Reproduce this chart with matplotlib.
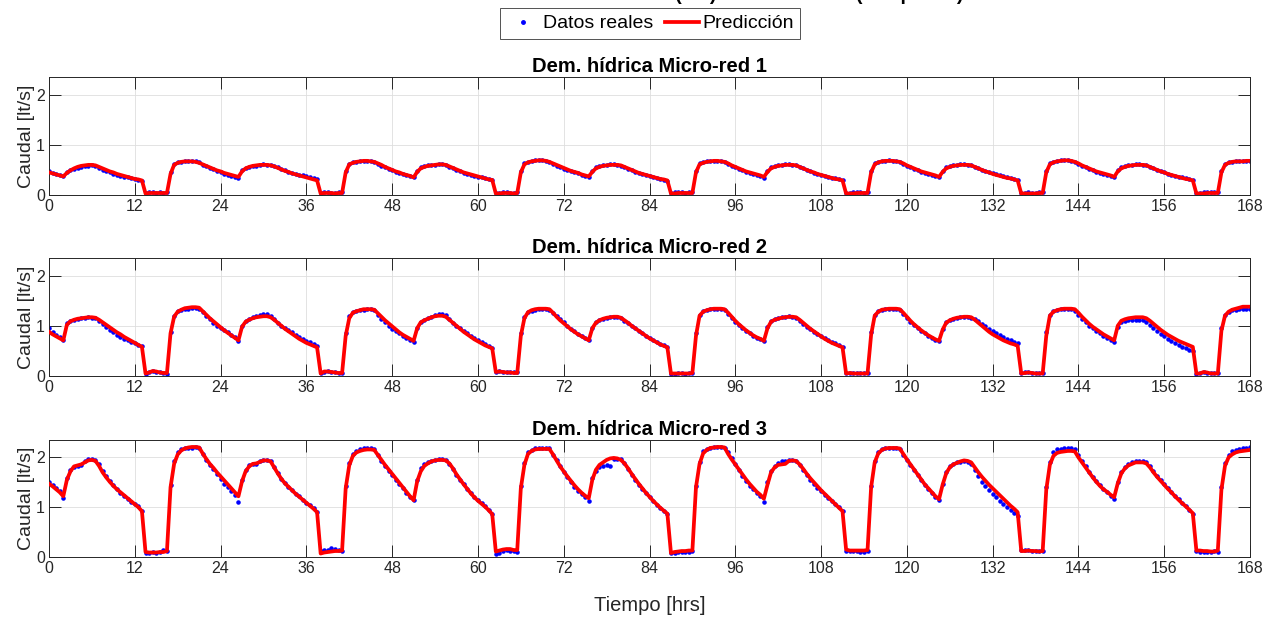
import numpy as np
import matplotlib
matplotlib.use("Agg")
import matplotlib.pyplot as plt
from matplotlib.lines import Line2D

plt.rcParams["font.family"] = ["Liberation Sans", "DejaVu Sans"]

# time axis: 0 .. 168 h, one sample every half hour
T_HRS = np.arange(0, 168.5, 0.5)
XTICKS = list(range(0, 169, 12))
PANEL_TITLES = ["Dem. hídrica Micro-red 1", "Dem. hídrica Micro-red 2",
                "Dem. hídrica Micro-red 3"]

# ── Micro-red 1 ───────────────────────────────────────────────────────
mr1_real = [
    0.47, 0.44, 0.42, 0.40, 0.38,
    0.46, 0.49, 0.52, 0.54, 0.56, 0.57, 0.58, 0.59, 0.58, 0.53, 0.50, 0.48, 0.45, 0.42, 0.40, 0.38, 0.36, 0.35, 0.33, 0.32, 0.30, 0.28,
    0.04, 0.05, 0.05, 0.04, 0.05, 0.04, 0.05,
    0.45, 0.62, 0.65, 0.66, 0.67, 0.68, 0.68, 0.67, 0.65, 0.60, 0.57, 0.54, 0.51, 0.48, 0.45, 0.42, 0.40, 0.38, 0.36, 0.34,
    0.49, 0.54, 0.56, 0.57, 0.58, 0.59, 0.61, 0.60, 0.59, 0.58, 0.55, 0.52, 0.49, 0.46, 0.44, 0.42, 0.40, 0.39, 0.37, 0.35, 0.33, 0.31,
    0.04, 0.05, 0.05, 0.04, 0.04, 0.05, 0.05,
    0.48, 0.62, 0.65, 0.66, 0.67, 0.68, 0.68, 0.67, 0.65, 0.62, 0.58, 0.55, 0.52, 0.49, 0.46, 0.44, 0.41, 0.39, 0.37, 0.35,
    0.48, 0.56, 0.58, 0.60, 0.60, 0.60, 0.61, 0.61, 0.60, 0.56, 0.53, 0.50, 0.47, 0.44, 0.42, 0.40, 0.38, 0.36, 0.35, 0.33, 0.31, 0.30,
    0.04, 0.04, 0.05, 0.05, 0.04, 0.04, 0.05,
    0.47, 0.63, 0.66, 0.68, 0.69, 0.70, 0.70, 0.68, 0.66, 0.62, 0.58, 0.55, 0.52, 0.49, 0.47, 0.45, 0.43, 0.40, 0.38, 0.36,
    0.48, 0.55, 0.58, 0.59, 0.60, 0.61, 0.61, 0.60, 0.58, 0.55, 0.52, 0.49, 0.46, 0.44, 0.42, 0.40, 0.38, 0.36, 0.34, 0.32, 0.30, 0.28,
    0.04, 0.05, 0.05, 0.05, 0.04, 0.05, 0.05,
    0.47, 0.63, 0.66, 0.67, 0.68, 0.68, 0.68, 0.67, 0.65, 0.62, 0.58, 0.55, 0.52, 0.49, 0.46, 0.44, 0.42, 0.39, 0.37, 0.34,
    0.48, 0.55, 0.57, 0.59, 0.60, 0.61, 0.61, 0.60, 0.59, 0.56, 0.53, 0.50, 0.47, 0.44, 0.42, 0.40, 0.38, 0.36, 0.34, 0.33, 0.32, 0.30,
    0.04, 0.04, 0.05, 0.05, 0.05, 0.04, 0.05,
    0.47, 0.63, 0.66, 0.68, 0.68, 0.69, 0.68, 0.67, 0.65, 0.62, 0.58, 0.55, 0.52, 0.49, 0.46, 0.44, 0.42, 0.40, 0.38, 0.35,
    0.48, 0.55, 0.58, 0.59, 0.60, 0.61, 0.61, 0.60, 0.59, 0.56, 0.53, 0.50, 0.47, 0.45, 0.43, 0.41, 0.39, 0.37, 0.35, 0.33, 0.31, 0.29,
    0.04, 0.04, 0.05, 0.04, 0.04, 0.05, 0.05,
    0.47, 0.63, 0.66, 0.68, 0.69, 0.70, 0.69, 0.68, 0.66, 0.62, 0.58, 0.55, 0.52, 0.49, 0.46, 0.44, 0.42, 0.40, 0.38, 0.35,
    0.49, 0.55, 0.58, 0.59, 0.60, 0.61, 0.61, 0.60, 0.59, 0.56, 0.53, 0.50, 0.47, 0.45, 0.42, 0.40, 0.38, 0.36, 0.35, 0.33, 0.31, 0.29,
    0.04, 0.04, 0.05, 0.05, 0.05, 0.05, 0.05,
    0.48, 0.62, 0.65, 0.66, 0.67, 0.67, 0.68, 0.68, 0.68,
]
mr1_pred = [
    0.45, 0.43, 0.41, 0.39, 0.37,
    0.44, 0.49, 0.53, 0.56, 0.58, 0.59, 0.60, 0.60, 0.59, 0.56, 0.53, 0.50, 0.47, 0.45, 0.42, 0.40, 0.38, 0.36, 0.34, 0.32, 0.31, 0.29,
    0.03, 0.04, 0.04, 0.04, 0.04, 0.04, 0.04,
    0.42, 0.60, 0.64, 0.66, 0.67, 0.67, 0.67, 0.66, 0.64, 0.61, 0.58, 0.55, 0.52, 0.49, 0.47, 0.44, 0.42, 0.40, 0.38, 0.36,
    0.47, 0.53, 0.56, 0.58, 0.59, 0.60, 0.60, 0.60, 0.59, 0.57, 0.54, 0.51, 0.48, 0.46, 0.43, 0.41, 0.39, 0.37, 0.35, 0.33, 0.31, 0.29,
    0.03, 0.04, 0.04, 0.04, 0.03, 0.04, 0.04,
    0.45, 0.61, 0.64, 0.66, 0.67, 0.68, 0.68, 0.67, 0.66, 0.63, 0.60, 0.56, 0.53, 0.50, 0.47, 0.45, 0.42, 0.40, 0.38, 0.35,
    0.46, 0.53, 0.56, 0.58, 0.59, 0.60, 0.61, 0.61, 0.60, 0.57, 0.54, 0.51, 0.48, 0.45, 0.43, 0.41, 0.39, 0.37, 0.35, 0.33, 0.31, 0.30,
    0.03, 0.03, 0.04, 0.04, 0.04, 0.03, 0.04,
    0.45, 0.61, 0.65, 0.67, 0.68, 0.69, 0.69, 0.68, 0.66, 0.63, 0.60, 0.57, 0.54, 0.51, 0.48, 0.46, 0.44, 0.41, 0.39, 0.37,
    0.46, 0.53, 0.56, 0.58, 0.59, 0.60, 0.60, 0.60, 0.59, 0.56, 0.53, 0.50, 0.47, 0.44, 0.42, 0.40, 0.38, 0.36, 0.34, 0.32, 0.31, 0.29,
    0.03, 0.03, 0.04, 0.04, 0.04, 0.04, 0.04,
    0.45, 0.61, 0.64, 0.66, 0.67, 0.68, 0.68, 0.67, 0.66, 0.63, 0.59, 0.56, 0.53, 0.50, 0.47, 0.45, 0.43, 0.41, 0.39, 0.36,
    0.46, 0.53, 0.56, 0.58, 0.59, 0.60, 0.60, 0.60, 0.59, 0.56, 0.53, 0.50, 0.47, 0.45, 0.42, 0.40, 0.38, 0.36, 0.34, 0.32, 0.31, 0.29,
    0.03, 0.03, 0.03, 0.04, 0.04, 0.04, 0.04,
    0.45, 0.61, 0.65, 0.67, 0.68, 0.68, 0.68, 0.67, 0.66, 0.63, 0.59, 0.56, 0.53, 0.50, 0.47, 0.45, 0.43, 0.41, 0.39, 0.36,
    0.46, 0.53, 0.56, 0.58, 0.59, 0.60, 0.60, 0.60, 0.59, 0.56, 0.53, 0.50, 0.47, 0.45, 0.42, 0.40, 0.38, 0.36, 0.34, 0.33, 0.31, 0.29,
    0.03, 0.03, 0.03, 0.03, 0.03, 0.04, 0.04,
    0.45, 0.61, 0.65, 0.67, 0.68, 0.69, 0.69, 0.68, 0.66, 0.63, 0.59, 0.56, 0.53, 0.50, 0.47, 0.45, 0.43, 0.41, 0.39, 0.36,
    0.47, 0.53, 0.56, 0.58, 0.59, 0.60, 0.60, 0.60, 0.59, 0.56, 0.53, 0.50, 0.47, 0.45, 0.42, 0.40, 0.38, 0.36, 0.34, 0.32, 0.31, 0.29,
    0.03, 0.03, 0.03, 0.04, 0.04, 0.04, 0.04,
    0.45, 0.60, 0.64, 0.66, 0.67, 0.67, 0.67, 0.68, 0.68,
]

# ── Micro-red 2 ───────────────────────────────────────────────────────
mr2_real = [
    0.95, 0.87, 0.82, 0.77, 0.72,
    1.05, 1.10, 1.12, 1.14, 1.15, 1.16, 1.17, 1.16, 1.15, 1.10, 1.03, 0.97, 0.91, 0.87, 0.82, 0.78, 0.74, 0.71, 0.68, 0.65, 0.62, 0.59,
    0.04, 0.07, 0.09, 0.08, 0.07, 0.05, 0.04,
    0.88, 1.20, 1.29, 1.32, 1.33, 1.34, 1.35, 1.35, 1.34, 1.27, 1.20, 1.13, 1.06, 1.00, 0.95, 0.91, 0.87, 0.82, 0.78, 0.70,
    1.00, 1.10, 1.14, 1.17, 1.19, 1.22, 1.24, 1.23, 1.20, 1.13, 1.06, 1.00, 0.95, 0.91, 0.87, 0.82, 0.78, 0.74, 0.70, 0.67, 0.64, 0.60,
    0.05, 0.08, 0.09, 0.08, 0.07, 0.06, 0.06,
    0.85, 1.20, 1.27, 1.30, 1.31, 1.32, 1.33, 1.33, 1.31, 1.22, 1.14, 1.07, 1.00, 0.94, 0.90, 0.85, 0.80, 0.76, 0.72, 0.68,
    0.96, 1.08, 1.12, 1.15, 1.18, 1.21, 1.23, 1.23, 1.21, 1.13, 1.06, 1.00, 0.95, 0.90, 0.85, 0.80, 0.76, 0.72, 0.68, 0.64, 0.60, 0.56,
    0.08, 0.09, 0.08, 0.08, 0.07, 0.07, 0.07,
    0.85, 1.18, 1.28, 1.30, 1.32, 1.33, 1.33, 1.33, 1.32, 1.25, 1.19, 1.13, 1.07, 1.00, 0.94, 0.89, 0.84, 0.79, 0.75, 0.71,
    0.96, 1.07, 1.11, 1.14, 1.16, 1.17, 1.18, 1.18, 1.16, 1.10, 1.05, 1.00, 0.95, 0.90, 0.85, 0.80, 0.76, 0.72, 0.68, 0.64, 0.61, 0.58,
    0.04, 0.04, 0.05, 0.05, 0.04, 0.05, 0.05,
    0.85, 1.22, 1.29, 1.32, 1.33, 1.33, 1.33, 1.33, 1.32, 1.24, 1.16, 1.08, 1.02, 0.96, 0.90, 0.85, 0.80, 0.76, 0.73, 0.70,
    0.97, 1.10, 1.13, 1.15, 1.17, 1.18, 1.19, 1.18, 1.16, 1.10, 1.04, 0.98, 0.93, 0.88, 0.84, 0.80, 0.76, 0.72, 0.68, 0.65, 0.62, 0.58,
    0.05, 0.06, 0.05, 0.05, 0.05, 0.05, 0.05,
    0.88, 1.22, 1.29, 1.32, 1.33, 1.33, 1.34, 1.33, 1.32, 1.24, 1.16, 1.08, 1.01, 0.95, 0.90, 0.85, 0.80, 0.76, 0.72, 0.69,
    0.94, 1.07, 1.12, 1.14, 1.16, 1.17, 1.18, 1.18, 1.16, 1.14, 1.09, 1.04, 0.99, 0.94, 0.89, 0.85, 0.81, 0.78, 0.74, 0.71, 0.68, 0.66,
    0.05, 0.07, 0.07, 0.06, 0.05, 0.05, 0.05,
    0.88, 1.22, 1.29, 1.32, 1.33, 1.34, 1.34, 1.33, 1.30, 1.22, 1.14, 1.07, 1.00, 0.95, 0.90, 0.85, 0.80, 0.76, 0.72, 0.68,
    0.98, 1.07, 1.10, 1.11, 1.12, 1.12, 1.12, 1.11, 1.08, 1.02, 0.96, 0.90, 0.84, 0.79, 0.74, 0.70, 0.66, 0.62, 0.58, 0.55, 0.52, 0.50,
    0.04, 0.05, 0.07, 0.06, 0.05, 0.05, 0.05,
    0.95, 1.22, 1.28, 1.31, 1.32, 1.33, 1.33, 1.33, 1.34,
]
mr2_pred = [
    0.88, 0.83, 0.79, 0.75, 0.71,
    1.02, 1.09, 1.12, 1.14, 1.15, 1.16, 1.17, 1.17, 1.16, 1.12, 1.07, 1.02, 0.97, 0.92, 0.87, 0.83, 0.78, 0.74, 0.70, 0.66, 0.62, 0.58,
    0.05, 0.07, 0.10, 0.09, 0.07, 0.06, 0.06,
    0.85, 1.18, 1.28, 1.32, 1.35, 1.36, 1.37, 1.37, 1.36, 1.29, 1.22, 1.15, 1.09, 1.03, 0.97, 0.91, 0.86, 0.81, 0.76, 0.71,
    0.98, 1.08, 1.12, 1.15, 1.17, 1.18, 1.19, 1.19, 1.17, 1.12, 1.06, 1.00, 0.94, 0.89, 0.84, 0.79, 0.74, 0.70, 0.66, 0.63, 0.60, 0.57,
    0.05, 0.09, 0.09, 0.08, 0.07, 0.06, 0.06,
    0.80, 1.15, 1.26, 1.29, 1.31, 1.33, 1.33, 1.33, 1.32, 1.25, 1.18, 1.11, 1.05, 0.99, 0.93, 0.87, 0.82, 0.78, 0.74, 0.70,
    0.95, 1.07, 1.11, 1.14, 1.17, 1.19, 1.20, 1.20, 1.18, 1.12, 1.06, 1.00, 0.94, 0.88, 0.83, 0.78, 0.73, 0.69, 0.65, 0.61, 0.58, 0.55,
    0.08, 0.09, 0.08, 0.07, 0.07, 0.06, 0.06,
    0.80, 1.15, 1.27, 1.31, 1.33, 1.34, 1.34, 1.34, 1.33, 1.26, 1.18, 1.11, 1.05, 0.99, 0.93, 0.88, 0.83, 0.79, 0.75, 0.71,
    0.95, 1.06, 1.11, 1.14, 1.16, 1.17, 1.18, 1.18, 1.16, 1.11, 1.06, 1.00, 0.95, 0.90, 0.85, 0.80, 0.75, 0.71, 0.67, 0.63, 0.60, 0.57,
    0.05, 0.05, 0.05, 0.05, 0.05, 0.05, 0.06,
    0.80, 1.20, 1.28, 1.31, 1.33, 1.34, 1.34, 1.34, 1.33, 1.26, 1.18, 1.10, 1.03, 0.97, 0.91, 0.86, 0.81, 0.77, 0.74, 0.70,
    0.95, 1.08, 1.12, 1.14, 1.16, 1.17, 1.18, 1.18, 1.17, 1.12, 1.06, 1.00, 0.94, 0.89, 0.84, 0.79, 0.74, 0.70, 0.66, 0.63, 0.60, 0.57,
    0.05, 0.06, 0.05, 0.05, 0.05, 0.05, 0.05,
    0.82, 1.20, 1.28, 1.32, 1.33, 1.34, 1.34, 1.34, 1.33, 1.26, 1.18, 1.10, 1.03, 0.97, 0.91, 0.86, 0.81, 0.77, 0.73, 0.70,
    0.92, 1.06, 1.11, 1.14, 1.16, 1.17, 1.18, 1.18, 1.17, 1.12, 1.06, 1.00, 0.94, 0.88, 0.83, 0.79, 0.75, 0.71, 0.68, 0.65, 0.63, 0.60,
    0.05, 0.06, 0.07, 0.06, 0.05, 0.05, 0.05,
    0.80, 1.20, 1.28, 1.31, 1.33, 1.34, 1.34, 1.34, 1.33, 1.26, 1.18, 1.11, 1.04, 0.98, 0.93, 0.88, 0.83, 0.79, 0.75, 0.71,
    1.00, 1.10, 1.13, 1.15, 1.16, 1.17, 1.17, 1.17, 1.15, 1.10, 1.04, 0.98, 0.92, 0.87, 0.82, 0.78, 0.74, 0.70, 0.67, 0.64, 0.61, 0.58,
    0.05, 0.05, 0.08, 0.07, 0.05, 0.05, 0.05,
    0.90, 1.20, 1.28, 1.32, 1.34, 1.36, 1.38, 1.38, 1.38,
]

# ── Micro-red 3 ───────────────────────────────────────────────────────
mr3_real = [
    1.50, 1.44, 1.38, 1.32, 1.19,
    1.58, 1.75, 1.80, 1.82, 1.84, 1.92, 1.97, 1.97, 1.95, 1.86, 1.73, 1.63, 1.52, 1.44, 1.37, 1.29, 1.22, 1.16, 1.10, 1.06, 1.03, 0.93,
    0.09, 0.09, 0.10, 0.09, 0.10, 0.14, 0.12,
    1.45, 1.92, 2.10, 2.16, 2.18, 2.18, 2.19, 2.20, 2.19, 2.06, 1.95, 1.84, 1.76, 1.66, 1.56, 1.47, 1.40, 1.32, 1.24, 1.10,
    1.55, 1.74, 1.84, 1.86, 1.86, 1.93, 1.94, 1.95, 1.93, 1.80, 1.68, 1.57, 1.48, 1.41, 1.34, 1.27, 1.22, 1.15, 1.09, 1.04, 0.98, 0.90,
    0.13, 0.15, 0.15, 0.18, 0.17, 0.14, 0.12,
    1.42, 1.88, 2.06, 2.13, 2.17, 2.18, 2.19, 2.18, 2.17, 2.04, 1.93, 1.83, 1.73, 1.64, 1.55, 1.46, 1.38, 1.29, 1.21, 1.14,
    1.54, 1.78, 1.87, 1.90, 1.93, 1.95, 1.96, 1.96, 1.95, 1.87, 1.77, 1.65, 1.55, 1.46, 1.37, 1.29, 1.21, 1.14, 1.08, 1.02, 0.95, 0.86,
    0.07, 0.08, 0.12, 0.14, 0.13, 0.12, 0.10,
    1.42, 1.88, 2.10, 2.15, 2.18, 2.19, 2.19, 2.19, 2.18, 2.05, 1.94, 1.82, 1.71, 1.60, 1.50, 1.41, 1.33, 1.26, 1.21, 1.13,
    1.58, 1.72, 1.80, 1.83, 1.84, 1.83, 1.96, 1.97, 1.96, 1.88, 1.76, 1.65, 1.55, 1.45, 1.37, 1.28, 1.20, 1.12, 1.05, 0.98, 0.92, 0.87,
    0.08, 0.09, 0.10, 0.10, 0.10, 0.11, 0.12,
    1.42, 1.90, 2.12, 2.17, 2.19, 2.20, 2.20, 2.20, 2.19, 2.10, 1.98, 1.86, 1.74, 1.62, 1.52, 1.43, 1.36, 1.28, 1.22, 1.11,
    1.50, 1.72, 1.82, 1.88, 1.92, 1.92, 1.94, 1.94, 1.92, 1.84, 1.74, 1.64, 1.55, 1.47, 1.39, 1.32, 1.25, 1.19, 1.12, 1.06, 1.00, 0.93,
    0.13, 0.12, 0.12, 0.12, 0.11, 0.10, 0.12,
    1.42, 1.92, 2.10, 2.16, 2.18, 2.19, 2.19, 2.19, 2.17, 2.05, 1.94, 1.84, 1.74, 1.64, 1.54, 1.45, 1.37, 1.29, 1.21, 1.15,
    1.46, 1.70, 1.82, 1.87, 1.90, 1.91, 1.92, 1.91, 1.86, 1.74, 1.62, 1.51, 1.42, 1.34, 1.27, 1.20, 1.13, 1.06, 1.00, 0.94, 0.88, 0.83,
    0.14, 0.14, 0.15, 0.13, 0.12, 0.12, 0.12,
    1.40, 1.90, 2.10, 2.16, 2.17, 2.18, 2.18, 2.19, 2.17, 2.04, 1.92, 1.82, 1.71, 1.61, 1.52, 1.44, 1.36, 1.30, 1.23, 1.17,
    1.50, 1.70, 1.80, 1.86, 1.90, 1.93, 1.93, 1.92, 1.90, 1.82, 1.72, 1.63, 1.54, 1.46, 1.38, 1.31, 1.23, 1.16, 1.09, 1.03, 0.95, 0.86,
    0.12, 0.11, 0.10, 0.10, 0.11, 0.12, 0.11,
    1.40, 1.88, 2.05, 2.12, 2.15, 2.17, 2.18, 2.19, 2.20,
]
mr3_pred = [
    1.47, 1.42, 1.36, 1.30, 1.22,
    1.55, 1.72, 1.82, 1.84, 1.86, 1.90, 1.94, 1.95, 1.93, 1.83, 1.70, 1.60, 1.51, 1.43, 1.36, 1.30, 1.24, 1.18, 1.12, 1.06, 1.00, 0.92,
    0.10, 0.09, 0.09, 0.09, 0.10, 0.10, 0.12,
    1.40, 1.87, 2.06, 2.14, 2.18, 2.20, 2.21, 2.21, 2.20, 2.08, 1.97, 1.87, 1.79, 1.70, 1.62, 1.54, 1.46, 1.38, 1.30, 1.22,
    1.52, 1.72, 1.82, 1.87, 1.88, 1.91, 1.94, 1.94, 1.92, 1.80, 1.68, 1.57, 1.48, 1.41, 1.34, 1.27, 1.21, 1.15, 1.09, 1.03, 0.97, 0.90,
    0.07, 0.09, 0.10, 0.11, 0.12, 0.12, 0.13,
    1.38, 1.84, 2.03, 2.10, 2.13, 2.15, 2.16, 2.16, 2.15, 2.05, 1.95, 1.85, 1.76, 1.67, 1.58, 1.49, 1.40, 1.31, 1.22, 1.14,
    1.52, 1.72, 1.83, 1.88, 1.92, 1.94, 1.95, 1.95, 1.94, 1.88, 1.78, 1.66, 1.56, 1.46, 1.37, 1.28, 1.20, 1.13, 1.07, 1.01, 0.94, 0.86,
    0.11, 0.13, 0.15, 0.16, 0.16, 0.14, 0.14,
    1.38, 1.85, 2.07, 2.13, 2.16, 2.17, 2.17, 2.17, 2.17, 2.06, 1.94, 1.82, 1.72, 1.62, 1.53, 1.44, 1.36, 1.29, 1.23, 1.18,
    1.55, 1.75, 1.85, 1.90, 1.95, 1.98, 1.99, 1.98, 1.95, 1.88, 1.78, 1.67, 1.57, 1.47, 1.38, 1.29, 1.21, 1.13, 1.06, 0.99, 0.93, 0.87,
    0.08, 0.10, 0.11, 0.12, 0.12, 0.13, 0.13,
    1.40, 1.87, 2.08, 2.15, 2.19, 2.20, 2.21, 2.21, 2.20, 2.07, 1.96, 1.86, 1.76, 1.66, 1.56, 1.47, 1.39, 1.31, 1.25, 1.17,
    1.45, 1.70, 1.80, 1.85, 1.86, 1.87, 1.93, 1.94, 1.93, 1.86, 1.77, 1.67, 1.58, 1.50, 1.42, 1.34, 1.27, 1.20, 1.13, 1.06, 0.99, 0.92,
    0.15, 0.13, 0.13, 0.13, 0.13, 0.13, 0.14,
    1.40, 1.90, 2.08, 2.15, 2.18, 2.19, 2.19, 2.19, 2.18, 2.07, 1.96, 1.86, 1.76, 1.66, 1.56, 1.46, 1.38, 1.30, 1.22, 1.16,
    1.45, 1.68, 1.80, 1.86, 1.89, 1.92, 1.94, 1.93, 1.90, 1.80, 1.70, 1.61, 1.53, 1.45, 1.38, 1.31, 1.24, 1.17, 1.10, 1.03, 0.97, 0.90,
    0.12, 0.12, 0.13, 0.12, 0.12, 0.11, 0.12,
    1.35, 1.85, 2.03, 2.09, 2.11, 2.12, 2.13, 2.13, 2.12, 2.00, 1.90, 1.80, 1.70, 1.60, 1.51, 1.43, 1.36, 1.31, 1.25, 1.20,
    1.48, 1.68, 1.78, 1.84, 1.87, 1.90, 1.90, 1.90, 1.88, 1.80, 1.70, 1.61, 1.53, 1.45, 1.37, 1.30, 1.22, 1.15, 1.08, 1.02, 0.95, 0.88,
    0.13, 0.13, 0.12, 0.12, 0.11, 0.11, 0.13,
    1.35, 1.83, 2.00, 2.06, 2.10, 2.12, 2.13, 2.14, 2.15,
]

REAL = [mr1_real, mr2_real, mr3_real]
PRED = [mr1_pred, mr2_pred, mr3_pred]
for r, p in zip(REAL, PRED):
    assert len(r) == len(T_HRS) and len(p) == len(T_HRS), (len(r), len(p))

# ── Plot ────────────────────────────────────────────────────────────────
DARK = "#262626"
W, H = 1268, 617
fig = plt.figure(figsize=(W / 100, H / 100), dpi=100)

# axes boxes in pixels (left, top, right, bottom)
boxes = [(49, 77, 1250, 195), (49, 258, 1250, 376), (49, 440, 1250, 557)]

axes = []
for i, (l, t, r, b) in enumerate(boxes):
    ax = fig.add_axes([l / W, 1 - b / H, (r - l) / W, (b - t) / H])
    ax.plot(T_HRS, REAL[i], ls="none", marker=".", ms=4.5, color="blue",
            label="Datos reales", zorder=2)
    ax.plot(T_HRS, PRED[i], color="red", lw=2.7, label="Predicción", zorder=3)

    ax.set_xlim(0, 168)
    ax.set_ylim(0, 2.35)
    ax.set_xticks(XTICKS)
    ax.set_yticks([0, 1, 2])
    ax.grid(True, color="#dedede", lw=0.6)
    ax.set_axisbelow(True)
    ax.tick_params(direction="in", top=True, right=True, length=8.5,
                   width=0.7, colors=DARK, labelsize=11.5, pad=3)
    for sp in ax.spines.values():
        sp.set_color(DARK)
        sp.set_linewidth(0.7)
    ax.set_title(PANEL_TITLES[i], fontsize=14.5, fontweight="bold", pad=3.5)
    ax.set_ylabel("Caudal [lt/s]", fontsize=14, color=DARK, labelpad=1)
    axes.append(ax)

axes[-1].set_xlabel("Tiempo [hrs]", fontsize=14.5, color=DARK, labelpad=14)

# figure title: in the original only its lowest pixels show at the top edge
fig.text(600 / W, 1 - 0.5 / H,
         "Predicción de demanda hídrica en micro-redes (lt/s) con red LSTM (168 pasos)",
         ha="center", va="baseline", fontsize=14, fontweight="bold")

handles = [
    Line2D([], [], ls="none", marker=".", ms=5, color="blue"),
    Line2D([], [], color="red", lw=2.7),
]
leg = fig.legend(handles, ["Datos reales", "Predicción"], loc="upper center",
                 bbox_to_anchor=(650 / W, 1 - 8 / H), ncol=2, fontsize=14,
                 frameon=True, fancybox=False, edgecolor=DARK,
                 handlelength=1.75, handletextpad=0.15, columnspacing=0.6,
                 borderpad=0.35, borderaxespad=0)
leg.get_frame().set_linewidth(0.7)

fig.savefig("out.png", dpi=100)
